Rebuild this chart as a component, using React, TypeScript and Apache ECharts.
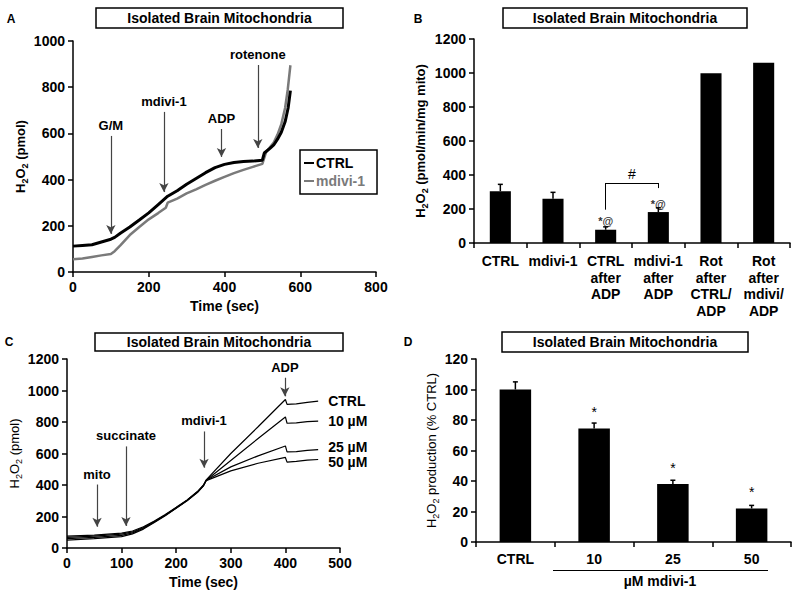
import { useEffect, useRef } from 'react';
import * as echarts from 'echarts';

const FONT = '"Liberation Sans", Arial, sans-serif';

// ---------- Panel A ----------
const ctrlA: number[][] = [[0,112],[25,115],[50,118],[75,130],[100,142],[110,150],[125,168],[150,195],[175,225],[200,256],[225,292],[250,328],[275,352],[300,380],[325,405],[350,430],[375,452],[400,466],[425,474],[450,478],[475,480],[500,484],[505,515],[520,535],[530,550],[540,575],[550,605],[560,650],[568,710],[574,785]];
const mdiviA: number[][] = [[0,55],[25,58],[50,65],[75,72],[100,78],[110,90],[125,115],[150,160],[175,195],[200,228],[225,255],[245,278],[250,300],[275,318],[300,340],[325,358],[350,377],[375,395],[400,412],[425,428],[450,442],[475,455],[500,468],[510,520],[520,540],[530,560],[540,595],[550,640],[560,710],[567,790],[574,895]];
const arrowsA = [
  { label: 'G/M', x: 100, from: 589, to: 165 },
  { label: 'mdivi-1', x: 240, from: 693, to: 346 },
  { label: 'ADP', x: 392, from: 619, to: 498 },
  { label: 'rotenone', x: 488, from: 896, to: 537 },
];

// ---------- Panel B ----------
const catB = ['CTRL', 'mdivi-1', 'CTRL\nafter\nADP', 'mdivi-1\nafter\nADP', 'Rot\nafter\nCTRL/\nADP', 'Rot\nafter\nmdivi/\nADP'];
const valB = [305, 260, 78, 182, 998, 1060];
const errB = [40, 38, 17, 25, 0, 0];
const sigB = ['', '', '*@', '*@', '', ''];
const bracketB = { left: 2, right: 3, leftFrom: 196, rightTo: 323, top: 353, label: '#' };

// ---------- Panel C ----------
const cCtrl: number[][] = [[0,75],[50,82],[100,95],[120,108],[140,135],[160,172],[180,212],[200,258],[220,305],[240,362],[250,400],[255,432],[300,600],[350,770],[400,943],[403,912],[420,915],[440,925],[460,932]];
const c10: number[][] = [[0,68],[50,76],[100,88],[120,102],[140,130],[160,168],[180,210],[200,256],[220,304],[240,360],[250,398],[255,430],[300,555],[350,695],[400,832],[403,792],[420,795],[440,802],[460,805]];
const c25: number[][] = [[0,60],[50,68],[100,80],[120,96],[140,125],[160,165],[180,208],[200,254],[220,302],[240,358],[250,396],[255,430],[300,515],[350,585],[400,648],[403,610],[420,612],[440,620],[460,625]];
const c50: number[][] = [[0,50],[50,60],[100,72],[120,90],[140,120],[160,162],[180,205],[200,252],[220,300],[240,356],[250,395],[255,428],[300,490],[350,538],[400,575],[403,545],[420,550],[440,558],[460,562]];
const seriesC = [
  { name: 'CTRL', data: cCtrl },
  { name: '10 µM', data: c10 },
  { name: '25 µM', data: c25 },
  { name: '50 µM', data: c50 },
];
const arrowsC = [
  { label: 'mito', x: 55, from: 403, to: 135 },
  { label: 'succinate', x: 108, from: 645, to: 140 },
  { label: 'mdivi-1', x: 251, from: 740, to: 510 },
  { label: 'ADP', x: 399, from: 1081, to: 963 },
];

// ---------- Panel D ----------
const catD = ['CTRL', '10', '25', '50'];
const valD = [100, 74.5, 38, 22];
const errD = [5, 3.5, 2.5, 2];
const sigD = ['', '*', '*', '*'];

const plain = (v: number) => String(v);

const axisCommon = {
  axisLine: { show: true, lineStyle: { color: '#000', width: 1.5 } },
  axisTick: { show: true, length: 5, lineStyle: { color: '#000', width: 1.5 } },
  axisLabel: { color: '#000', fontWeight: 'bold', fontSize: 14, fontFamily: FONT },
  splitLine: { show: false },
};

const yName = (text: string, bold: boolean) => ({
  name: text,
  nameLocation: 'middle',
  nameRotate: 90,
  nameTextStyle: {
    color: '#000', fontSize: 13, fontWeight: bold ? 'bold' : 'normal', fontFamily: FONT, lineHeight: 18,
    rich: { sub: { fontSize: 9, fontWeight: bold ? 'bold' : 'normal', fontFamily: FONT, verticalAlign: 'bottom', color: '#000' } },
  },
});

const arrowMarkLine = (arrows: { label: string; x: number; from: number; to: number }[]) => ({
  silent: true,
  symbol: ['none', 'arrow'],
  symbolSize: [7, 9],
  lineStyle: { color: '#444', width: 1.2, type: 'solid' },
  label: { show: true, position: 'start', distance: 4, formatter: (p: any) => p.name, color: '#000', fontWeight: 'bold', fontSize: 13, fontFamily: FONT },
  emphasis: { disabled: true },
  data: arrows.map((a) => [
    { name: a.label, coord: [a.x, a.from] },
    { coord: [a.x, a.to] },
  ]),
});

const errorRender = (params: any, api: any) => {
  const x = api.value(0);
  const v = api.value(1);
  const e = api.value(2);
  if (!e) return null;
  const p1 = api.coord([x, v]);
  const p2 = api.coord([x, v + e]);
  return {
    type: 'group',
    children: [
      { type: 'line', shape: { x1: p1[0], y1: p1[1], x2: p2[0], y2: p2[1] }, style: { stroke: '#000', lineWidth: 1.5 } },
      { type: 'line', shape: { x1: p2[0] - 2.5, y1: p2[1], x2: p2[0] + 2.5, y2: p2[1] }, style: { stroke: '#000', lineWidth: 1.5 } },
    ],
  };
};

const titleBox = (x: number, y: number, w: number, h: number) => ({
  type: 'group',
  children: [
    { type: 'rect', shape: { x, y, width: w, height: h }, style: { fill: '#fff', stroke: '#000', lineWidth: 1.5 } },
    { type: 'text', x: x + w / 2, y: y + h / 2, style: { text: 'Isolated Brain Mitochondria', fill: '#000', font: `bold 14px ${FONT}`, textAlign: 'center', textVerticalAlign: 'middle' } },
  ],
});

const letter = (t: string, x: number, y: number) => ({
  type: 'text', x, y, style: { text: t, fill: '#000', font: `bold 12px ${FONT}`, textAlign: 'center', textVerticalAlign: 'middle' },
});

const endOffsets = [[0, 0], [0, 0], [0, -3], [0, 3]];

const option: any = {
  animation: false,
  backgroundColor: '#fff',
  textStyle: { fontFamily: FONT },
  grid: [
    { left: 73, top: 41, width: 303, height: 231 },
    { left: 474, top: 39, width: 316, height: 204 },
    { left: 67, top: 359, width: 273, height: 189 },
    { left: 476, top: 359, width: 315, height: 183 },
  ],
  legend: {
    data: [
      { name: 'CTRL', textStyle: { color: '#000' } },
      { name: 'mdivi-1', textStyle: { color: '#7a7a7a' } },
    ],
    left: 300, top: 150, orient: 'vertical', itemGap: 4, itemWidth: 10, itemHeight: 2, icon: 'rect',
    borderColor: '#000', borderWidth: 1.5, padding: [6, 12, 6, 4],
    textStyle: { fontWeight: 'bold', fontSize: 14, fontFamily: FONT, padding: [0, 0, 0, -3] },
  },
  xAxis: [
    { ...axisCommon, gridIndex: 0, type: 'value', min: 0, max: 800, interval: 200, name: 'Time (sec)', nameLocation: 'middle', nameGap: 27,
      nameTextStyle: { color: '#000', fontWeight: 'bold', fontSize: 14, fontFamily: FONT }, axisLabel: { ...axisCommon.axisLabel, margin: 8, formatter: plain } },
    { ...axisCommon, gridIndex: 1, type: 'category', data: catB, axisLabel: { ...axisCommon.axisLabel, interval: 0, lineHeight: 16.5, margin: 10 } },
    { ...axisCommon, gridIndex: 2, type: 'value', min: 0, max: 500, interval: 100, name: 'Time (sec)', nameLocation: 'middle', nameGap: 27,
      nameTextStyle: { color: '#000', fontWeight: 'bold', fontSize: 14, fontFamily: FONT }, axisLabel: { ...axisCommon.axisLabel, margin: 8, formatter: plain } },
    { ...axisCommon, gridIndex: 3, type: 'category', data: catD, axisLabel: { ...axisCommon.axisLabel, interval: 0, margin: 10 } },
  ],
  yAxis: [
    { ...axisCommon, gridIndex: 0, type: 'value', min: 0, max: 1000, interval: 200, axisLabel: { ...axisCommon.axisLabel, formatter: plain }, ...yName('H{sub|2}O{sub|2} (pmol)', true), nameGap: 43 },
    { ...axisCommon, gridIndex: 1, type: 'value', min: 0, max: 1200, interval: 200, axisLabel: { ...axisCommon.axisLabel, formatter: plain }, ...yName('H{sub|2}O{sub|2} (pmol/min/mg mito)', true), nameGap: 45 },
    { ...axisCommon, gridIndex: 2, type: 'value', min: 0, max: 1200, interval: 200, axisLabel: { ...axisCommon.axisLabel, formatter: plain }, ...yName('H{sub|2}O{sub|2} (pmol)', false), nameGap: 42 },
    { ...axisCommon, gridIndex: 3, type: 'value', min: 0, max: 120, interval: 20, axisLabel: { ...axisCommon.axisLabel, formatter: plain }, ...yName('H{sub|2}O{sub|2} production (% CTRL)', false), nameGap: 35 },
  ],
  series: [
    // Panel A
    { name: 'mdivi-1', type: 'line', xAxisIndex: 0, yAxisIndex: 0, data: mdiviA, showSymbol: false, color: '#7a7a7a', lineStyle: { width: 2.5, color: '#7a7a7a' } },
    { name: 'CTRL', type: 'line', xAxisIndex: 0, yAxisIndex: 0, data: ctrlA, showSymbol: false, color: '#000', lineStyle: { width: 3, color: '#000' }, markLine: arrowMarkLine(arrowsA) },
    // Panel B
    { name: 'B', type: 'bar', xAxisIndex: 1, yAxisIndex: 1, data: valB, barWidth: '40%', itemStyle: { color: '#000' },
      label: { show: true, position: 'top', distance: 3, formatter: (p: any) => sigB[p.dataIndex], color: '#333', fontSize: 11, fontWeight: 'bold', fontFamily: FONT },
      markLine: {
        silent: true, symbol: ['none', 'none'], lineStyle: { color: '#000', width: 1, type: 'solid' },
        label: { show: true, position: 'middle', distance: 2, formatter: (p: any) => p.name, color: '#000', fontSize: 14, fontFamily: FONT },
        data: [
          [{ name: '', coord: [bracketB.left, bracketB.leftFrom] }, { coord: [bracketB.left, bracketB.top] }],
          [{ name: bracketB.label, coord: [bracketB.left, bracketB.top] }, { coord: [bracketB.right, bracketB.top] }],
          [{ name: '', coord: [bracketB.right, bracketB.top] }, { coord: [bracketB.right, bracketB.rightTo] }],
        ],
      } },
    { name: 'B-err', type: 'custom', xAxisIndex: 1, yAxisIndex: 1, renderItem: errorRender, data: valB.map((v, i) => [i, v, errB[i]]), encode: { x: 0, y: 1 }, z: 5 },
    // Panel C
    ...seriesC.map((s, i) => ({
      name: 'C-' + s.name, type: 'line', xAxisIndex: 2, yAxisIndex: 2, data: s.data, showSymbol: false, color: '#000',
      lineStyle: { width: 1.2, color: '#000' },
      endLabel: { show: true, formatter: () => s.name, distance: 10, offset: endOffsets[i], color: '#000', fontWeight: 'bold', fontSize: 14, fontFamily: FONT },
      markLine: i === 0 ? arrowMarkLine(arrowsC) : undefined,
    })),
    // Panel D
    { name: 'D', type: 'bar', xAxisIndex: 3, yAxisIndex: 3, data: valD, barWidth: '40%', itemStyle: { color: '#000' },
      label: { show: true, position: 'top', distance: 9, formatter: (p: any) => sigD[p.dataIndex], color: '#000', fontSize: 14, fontFamily: FONT } },
    { name: 'D-err', type: 'custom', xAxisIndex: 3, yAxisIndex: 3, renderItem: errorRender, data: valD.map((v, i) => [i, v, errD[i]]), encode: { x: 0, y: 1 }, z: 5 },
  ],
  graphic: [
    titleBox(96, 8, 247, 20),
    titleBox(503, 8, 244, 20),
    titleBox(95, 333, 248, 18),
    titleBox(502, 332, 246, 20),
    letter('A', 11, 19),
    letter('B', 418, 19),
    letter('C', 9, 342),
    letter('D', 408, 342),
    { type: 'line', shape: { x1: 553, y1: 570.5, x2: 768, y2: 570.5 }, style: { stroke: '#000', lineWidth: 1.2 } },
    { type: 'text', x: 660, y: 581, style: { text: 'µM mdivi-1', fill: '#000', font: `bold 14px ${FONT}`, textAlign: 'center', textVerticalAlign: 'middle' } },
  ],
};

export default function App() {
  const ref = useRef<HTMLDivElement>(null);
  useEffect(() => {
    document.body.style.margin = '0';
    const chart = echarts.init(ref.current!, null, { renderer: 'svg' });
    chart.setOption(option);
    return () => chart.dispose();
  }, []);
  return <div ref={ref} style={{ width: 800, height: 598 }} />;
}
